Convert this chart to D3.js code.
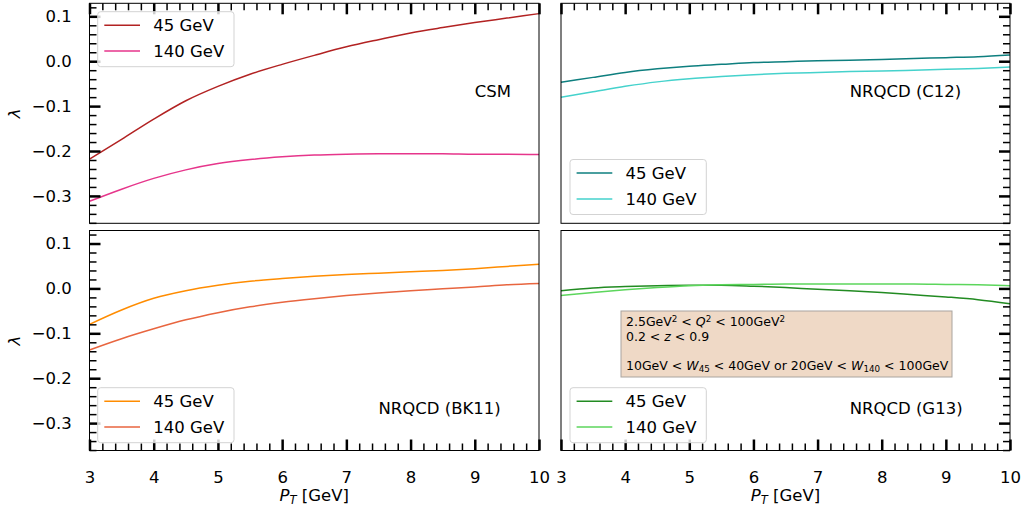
<!DOCTYPE html>
<html>
<head>
<meta charset="utf-8">
<script src="https://cdn.jsdelivr.net/npm/d3@7"></script>
<style>
  body { margin: 0; background: #fff; }
  svg { display: block; font-family: "DejaVu Sans", sans-serif; }
</style>
</head>
<body>
<svg id="chart" width="1025" height="513"></svg>
<script>
// Transverse-momentum grid (GeV)
const pT = [3, 3.5, 4, 4.5, 5, 5.5, 6, 6.5, 7, 7.5, 8, 8.5, 9, 9.5, 10];

// Polarisation parameter lambda for each model, at W = 45 GeV and 140 GeV
const csm45   = [-0.218, -0.174, -0.129, -0.088, -0.056, -0.029, -0.007, 0.013, 0.032, 0.048, 0.063, 0.075, 0.086, 0.096, 0.106];
const csm140  = [-0.312, -0.285, -0.261, -0.242, -0.228, -0.219, -0.213, -0.209, -0.207, -0.206, -0.206, -0.206, -0.207, -0.207, -0.208];
const c12_45  = [-0.047, -0.036, -0.025, -0.017, -0.011, -0.007, -0.003, -0.001, 0.001, 0.002, 0.004, 0.006, 0.008, 0.010, 0.014];
const c12_140 = [-0.080, -0.068, -0.056, -0.046, -0.039, -0.034, -0.030, -0.027, -0.025, -0.023, -0.022, -0.020, -0.018, -0.016, -0.013];
const bk11_45  = [-0.080, -0.048, -0.022, -0.005, 0.007, 0.016, 0.022, 0.027, 0.031, 0.034, 0.037, 0.040, 0.044, 0.049, 0.054];
const bk11_140 = [-0.137, -0.112, -0.090, -0.070, -0.054, -0.041, -0.031, -0.023, -0.016, -0.010, -0.005, -0.001, 0.003, 0.008, 0.011];
const g13_45  = [-0.005, 0.001, 0.004, 0.006, 0.007, 0.007, 0.005, 0.002, -0.002, -0.005, -0.009, -0.014, -0.019, -0.025, -0.034];
const g13_140 = [-0.016, -0.009, -0.003, 0.002, 0.006, 0.008, 0.009, 0.010, 0.010, 0.010, 0.010, 0.010, 0.009, 0.008, 0.006];

// Axis ticks
const xTicks = [3, 4, 5, 6, 7, 8, 9, 10];
const yTicks = [-0.3, -0.2, -0.1, 0.0, 0.1];
const xMinorTicks = d3.range(15, 51).filter(i => i % 5 !== 0).map(i => i / 5);
const yMinorTicks = d3.range(-18, 7).filter(i => i % 5 !== 0).map(i => i * 0.02);

const seriesNames = ["45 GeV", "140 GeV"];
const modelNames = ["CSM", "NRQCD (C12)", "NRQCD (BK11)", "NRQCD (G13)"];

// Layout
const cols = [{ x0: 89.5, x1: 539 }, { x0: 561, x1: 1010 }];
const rows = [{ y0: 3.3, y1: 223.3 }, { y0: 230.5, y1: 450.5 }];
const yDomain = [-0.361, 0.129];
const xDomain = [3, 10];
const FS = 16.5;

const panels = [
  { col: 0, row: 0, data: [csm45, csm140],   colors: ["#b22222", "#e6358b"], name: modelNames[0], labelX: 9.0, labelY: -0.079, legend: [97.7, 11.7] },
  { col: 1, row: 0, data: [c12_45, c12_140], colors: ["#0e7f7f", "#45d2cc"], name: modelNames[1], labelX: 7.5, labelY: -0.079, legend: [570, 159.5] },
  { col: 0, row: 1, data: [bk11_45, bk11_140], colors: ["#ff8c00", "#e8653f"], name: modelNames[2], labelX: 7.5, labelY: -0.280, legend: [97.7, 387.7] },
  { col: 1, row: 1, data: [g13_45, g13_140], colors: ["#228b22", "#5cd65c"], name: modelNames[3], labelX: 7.5, labelY: -0.280, legend: [570, 387.7] }
];

const svg = d3.select("#chart");
const fmtY = d3.format(".1f");

function styleTicks(g, w) {
  g.select(".domain").remove();
  g.selectAll(".tick line").attr("stroke", "#000").attr("stroke-width", w);
  g.selectAll(".tick text").attr("fill", "#000").attr("font-size", FS).attr("font-family", "DejaVu Sans, sans-serif");
}

panels.forEach(p => {
  const c = cols[p.col], r = rows[p.row];
  const x = d3.scaleLinear().domain(xDomain).range([c.x0, c.x1]);
  const y = d3.scaleLinear().domain(yDomain).range([r.y1, r.y0]);
  const g = svg.append("g");

  // Curves
  const line = d3.line().x(d => x(d[0])).y(d => y(d[1])).curve(d3.curveMonotoneX);
  p.data.forEach((vals, i) => {
    g.append("path")
      .datum(pT.map((t, k) => [t, vals[k]]))
      .attr("d", line)
      .attr("fill", "none")
      .attr("stroke", p.colors[i])
      .attr("stroke-width", 1.5)
      .attr("stroke-linejoin", "round");
  });

  // Ticks (inward, on the outer sides only)
  const showX = p.row === 1;
  const showY = p.col === 0;
  const xAxisFn = p.row === 0 ? d3.axisTop : d3.axisBottom;
  const xAt = p.row === 0 ? r.y0 : r.y1;
  const yAxisFn = p.col === 0 ? d3.axisLeft : d3.axisRight;
  const yAt = p.col === 0 ? c.x0 : c.x1;

  g.append("g").attr("transform", `translate(0,${xAt})`)
    .call(xAxisFn(x).tickValues(xMinorTicks).tickSize(-7).tickFormat(() => ""))
    .call(s => styleTicks(s, 1.5));
  g.append("g").attr("transform", `translate(0,${xAt})`)
    .call(xAxisFn(x).tickValues(xTicks).tickSize(-11).tickPadding(21)
      .tickFormat(showX ? d3.format("d") : () => ""))
    .call(s => styleTicks(s, 2.5));
  g.append("g").attr("transform", `translate(${yAt},0)`)
    .call(yAxisFn(y).tickValues(yMinorTicks).tickSize(-7).tickFormat(() => ""))
    .call(s => styleTicks(s, 1.5));
  g.append("g").attr("transform", `translate(${yAt},0)`)
    .call(yAxisFn(y).tickValues(yTicks).tickSize(-11).tickPadding(17.8)
      .tickFormat(showY ? fmtY : () => ""))
    .call(s => styleTicks(s, 2.5));

  // Frame
  g.append("rect")
    .attr("x", c.x0).attr("y", r.y0)
    .attr("width", c.x1 - c.x0).attr("height", r.y1 - r.y0)
    .attr("fill", "none").attr("stroke", "#000").attr("stroke-width", 1);

  // Model name
  g.append("text")
    .attr("x", x(p.labelX)).attr("y", y(p.labelY))
    .attr("font-size", FS).attr("fill", "#000")
    .text(p.name);

  // Legend
  const [bx, by] = p.legend;
  const lg = g.append("g");
  lg.append("rect")
    .attr("x", bx).attr("y", by).attr("width", 136.3).attr("height", 55)
    .attr("rx", 3).attr("fill", "#fff").attr("fill-opacity", 0.8)
    .attr("stroke", "#d3d3d3").attr("stroke-width", 1);
  seriesNames.forEach((nm, i) => {
    const ly = by + 13.6 + 25.8 * i;
    lg.append("line")
      .attr("x1", bx + 6.6).attr("x2", bx + 42.3)
      .attr("y1", ly).attr("y2", ly)
      .attr("stroke", p.colors[i]).attr("stroke-width", 1.5);
    lg.append("text")
      .attr("x", bx + 55.6).attr("y", ly).attr("dy", "0.36em")
      .attr("font-size", FS).attr("fill", "#000")
      .text(nm);
  });

  // Axis titles
  if (p.col === 0) {
    const cy = (r.y0 + r.y1) / 2;
    g.append("text")
      .attr("transform", `translate(20,${cy}) rotate(-90)`)
      .attr("text-anchor", "middle")
      .attr("font-size", FS).attr("font-style", "italic")
      .text("λ");
  }
  if (p.row === 1) {
    const t = g.append("text")
      .attr("x", (c.x0 + c.x1) / 2).attr("y", 501)
      .attr("text-anchor", "middle").attr("font-size", FS);
    t.append("tspan").attr("font-style", "italic").text("P");
    t.append("tspan").attr("font-style", "italic").attr("font-size", FS * 0.7).attr("baseline-shift", "-22%").text("T");
    t.append("tspan").text(" [GeV]");
  }
});

// Kinematic-cuts annotation box
const box = svg.append("g");
box.append("rect")
  .attr("x", 621).attr("y", 311).attr("width", 331).attr("height", 66)
  .attr("fill", "#efd9c6").attr("stroke", "#a9a49f").attr("stroke-width", 1);

const BFS = 12.5;
function boxLine(yPos, parts) {
  const t = box.append("text").attr("x", 626).attr("y", yPos).attr("font-size", BFS).attr("fill", "#000");
  parts.forEach(pt => {
    const s = t.append("tspan").text(pt.t);
    if (pt.i) s.attr("font-style", "italic");
    if (pt.sup) s.attr("font-size", BFS * 0.7).attr("baseline-shift", "45%");
    if (pt.sub) s.attr("font-size", BFS * 0.7).attr("baseline-shift", "-20%");
  });
}
boxLine(326, [
  { t: "2.5GeV" }, { t: "2", sup: true }, { t: " < " }, { t: "Q", i: true }, { t: "2", sup: true },
  { t: " < 100GeV" }, { t: "2", sup: true }
]);
boxLine(340.5, [{ t: "0.2 < " }, { t: "z", i: true }, { t: " < 0.9" }]);
boxLine(369.5, [
  { t: "10GeV < " }, { t: "W", i: true }, { t: "45", sub: true }, { t: " < 40GeV or 20GeV < " },
  { t: "W", i: true }, { t: "140", sub: true }, { t: " < 100GeV" }
]);
</script>
</body>
</html>
